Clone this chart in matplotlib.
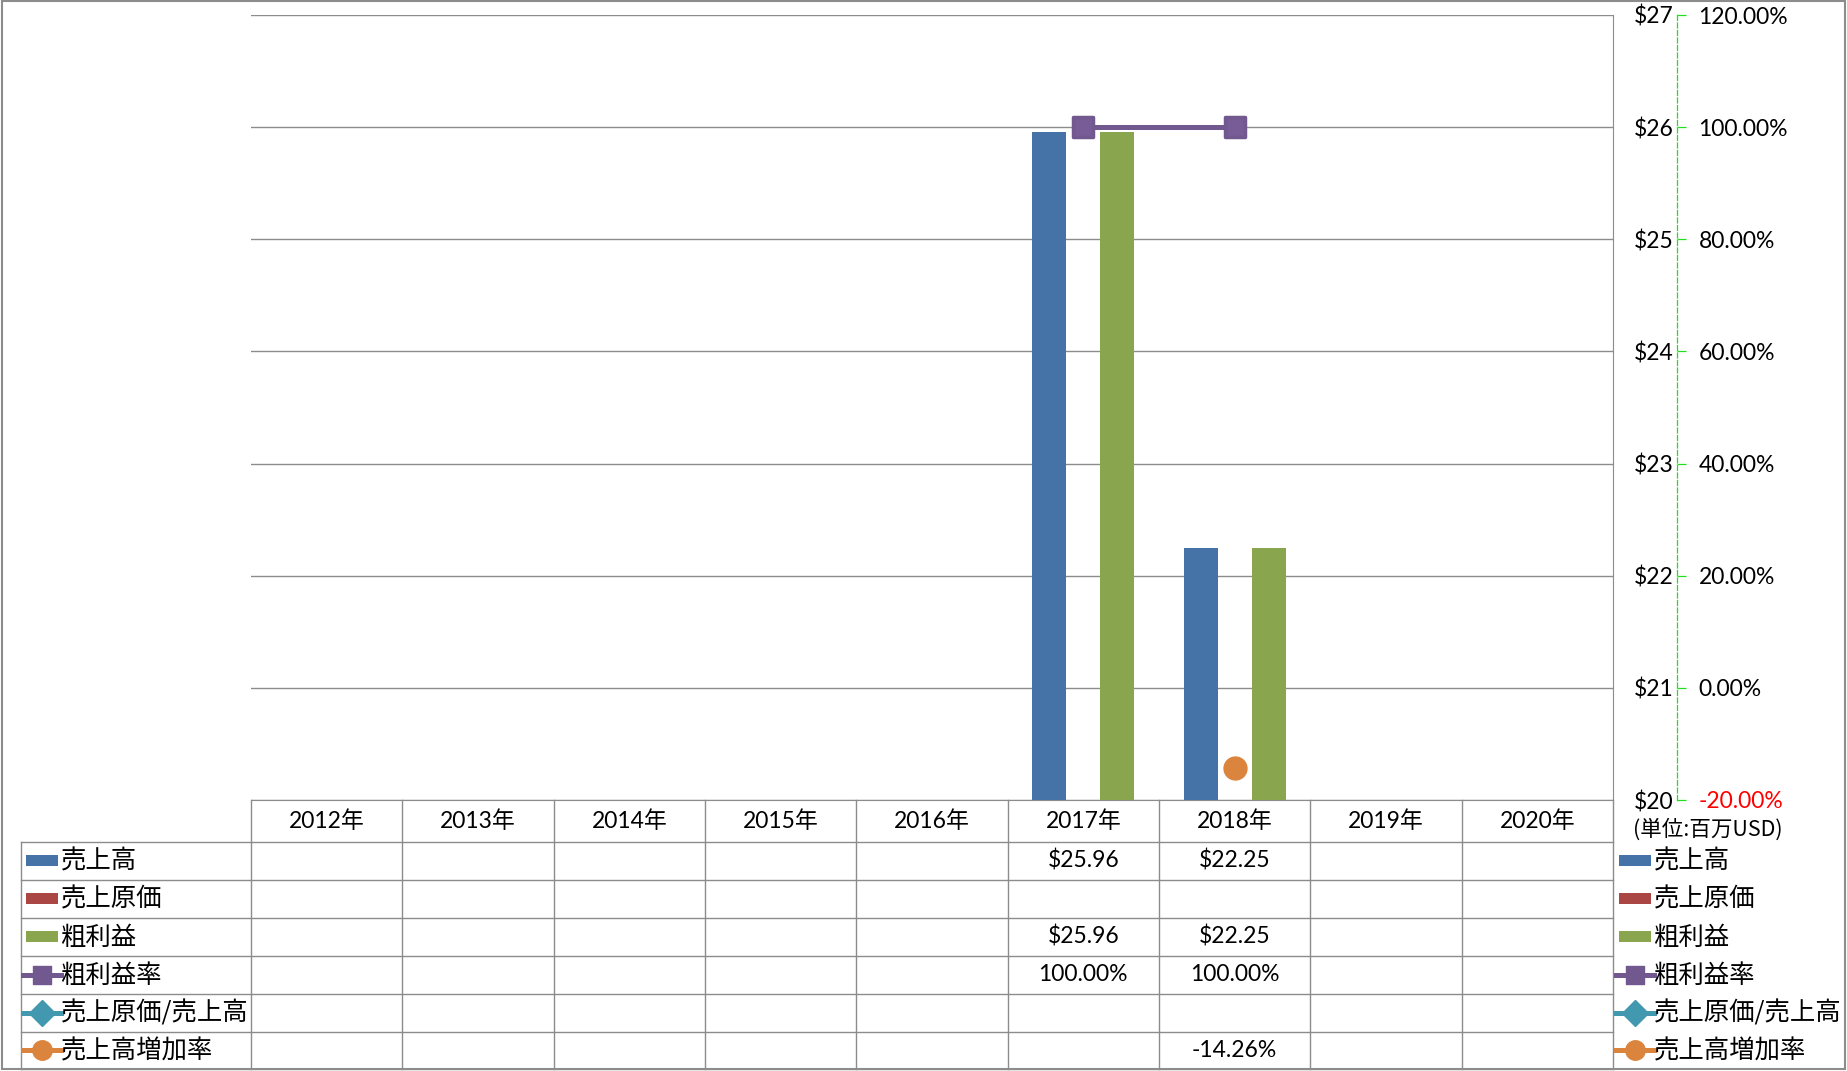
import numpy as np
import matplotlib
matplotlib.use("Agg")
import matplotlib.pyplot as plt
from matplotlib.lines import Line2D
from matplotlib.patches import Rectangle
from matplotlib.markers import MarkerStyle
import matplotlib.transforms as mtransforms

plt.rcParams['font.family'] = ['Lato', 'Noto Sans CJK JP']

# ---- data ----
years = ['2012年', '2013年', '2014年', '2015年', '2016年', '2017年', '2018年', '2019年', '2020年']
sales = [np.nan, np.nan, np.nan, np.nan, np.nan, 25.96, 22.25, np.nan, np.nan]
cogs = [np.nan] * 9
gross = [np.nan, np.nan, np.nan, np.nan, np.nan, 25.96, 22.25, np.nan, np.nan]
gross_margin = [np.nan, np.nan, np.nan, np.nan, np.nan, 100.0, 100.0, np.nan, np.nan]
cogs_ratio = [np.nan] * 9
sales_growth = [np.nan, np.nan, np.nan, np.nan, np.nan, np.nan, -14.26, np.nan, np.nan]

usd_ticks = [20, 21, 22, 23, 24, 25, 26, 27]
pct_ticks = [-20, 0, 20, 40, 60, 80, 100, 120]

BLUE = '#4572A7'
RED = '#AA4643'
GREEN = '#89A54E'
PURPLE = '#71588F'
TEAL = '#4198AF'
ORANGE = '#DB843D'
GRID = '#8C8C8C'
LAT = 16.5   # latin text size
CJK = 18.3   # row label size

W, H = 1847, 1071


def fx(px):
    return px / W


def fy(py):
    return 1 - py / H


fig = plt.figure(figsize=(W / 100, H / 100), dpi=100)
ax = fig.add_axes([fx(251), fy(800), (1613 - 251) / W, (800 - 15) / H])

x = np.arange(len(years))
bw = 0.2247
ax.bar(x - bw, sales, bw, color=BLUE, zorder=3)
ax.bar(x, cogs, bw, color=RED, zorder=3)
ax.bar(x + bw, gross, bw, color=GREEN, zorder=3)

ax.set_xlim(-0.5, len(years) - 0.5)
ax.set_ylim(20, 27)
ax.set_yticks(usd_ticks)
ax.set_yticklabels(['$%d' % v for v in usd_ticks])
ax.set_xticks([])
ax.grid(axis='y', color=GRID, linewidth=1.0)
ax.set_axisbelow(True)
ax.spines['left'].set_visible(False)
ax.spines['top'].set_visible(False)
ax.spines['right'].set_color(GRID)
ax.spines['bottom'].set_color(GRID)

# ---- secondary axis ----
ax2 = ax.twinx()
ax2.set_ylim(-20, 120)
ax2.set_yticks(pct_ticks)
ax2.set_yticklabels(['%.2f%%' % v for v in pct_ticks])
ax2.spines['right'].set_position(('outward', 46))
ax2.spines['right'].set_color('#22DD22')
ax2.spines['right'].set_linestyle((0, (4, 2)))
ax2.spines['right'].set_linewidth(0.9)
for s in ['left', 'top', 'bottom']:
    ax2.spines[s].set_visible(False)
ax2.tick_params(axis='y', direction='out', length=6.5, width=0.9, color='#22DD22',
                pad=9, labelsize=LAT)
for t in ax2.yaxis.get_major_ticks():
    t.tick2line.set_linestyle((0, (3, 2)))
ax2.get_yticklabels()[0].set_color('red')

# primary labels sit on the right, just inside the green axis (twinx resets them)
ax.tick_params(axis='y', left=False, labelleft=False, right=False, labelright=True,
               pad=40, labelsize=LAT)
for t in ax.yaxis.get_major_ticks():
    t.label2.set_horizontalalignment('right')

sq = MarkerStyle('s', joinstyle='round')
ax2.plot(x, gross_margin, color=PURPLE, linewidth=3.6, marker=sq, markersize=14,
         markerfacecolor='#775C97', markeredgecolor=PURPLE, markeredgewidth=2.5, zorder=4)
ax2.plot(x, cogs_ratio, color=TEAL, linewidth=3.6, marker='D', markersize=14, zorder=4)
ax2.plot(x, sales_growth, color=ORANGE, linewidth=3.6, marker='o', markersize=16.5,
         markeredgecolor=ORANGE, zorder=4)

# ---- data table ----
blend = mtransforms.blended_transform_factory(ax.transData, fig.transFigure)
row_lines = [842 + 37.9 * i for i in range(7)]
row_mid = [(row_lines[i] + row_lines[i + 1]) / 2 for i in range(6)]

for k in range(len(years) + 1):
    fig.add_artist(Line2D([k - 0.5, k - 0.5], [fy(800), fy(1069)], transform=blend,
                          color=GRID, linewidth=1.0, clip_on=False))
fig.add_artist(Line2D([fx(21), fx(21)], [fy(842), fy(1069)], color=GRID, linewidth=1.0))
for yl in row_lines:
    fig.add_artist(Line2D([fx(21), fx(1613)], [fy(yl), fy(yl)], color=GRID, linewidth=1.0))

for i, yr in enumerate(years):
    fig.text(i, fy(821), yr, transform=blend, ha='center', va='center', fontsize=LAT)

rows = [
    ('売上高', sales, '$%.2f', 'bar', BLUE),
    ('売上原価', cogs, '$%.2f', 'bar', RED),
    ('粗利益', gross, '$%.2f', 'bar', GREEN),
    ('粗利益率', gross_margin, '%.2f%%', 's', PURPLE),
    ('売上原価/売上高', cogs_ratio, '%.2f%%', 'D', TEAL),
    ('売上高増加率', sales_growth, '%.2f%%', 'o', ORANGE),
]

for r, (name, vals, fmt, kind, col) in enumerate(rows):
    yc = row_mid[r]
    for i, v in enumerate(vals):
        if not np.isnan(v):
            fig.text(i, fy(yc), fmt % v, transform=blend, ha='center', va='center',
                     fontsize=LAT)
    # left labels and right legend
    for x0, tx in [(26, 61), (1619, 1654)]:
        if kind == 'bar':
            fig.add_artist(Rectangle((fx(x0), fy(yc + 5.5)), 32 / W, 11 / H,
                                     facecolor=col, edgecolor='none'))
        else:
            mk = MarkerStyle('s', joinstyle='round') if kind == 's' else kind
            ms = 13 if kind != 'o' else 14
            fig.add_artist(Line2D([fx(x0 - 3), fx(x0 + 35)], [fy(yc), fy(yc)], color=col,
                                  linewidth=3.6, marker=None))
            fig.add_artist(Line2D([fx(x0 + 16)], [fy(yc)], color=col, marker=mk,
                                  markersize=ms, markeredgecolor=col, linestyle='none'))
        fig.text(fx(tx), fy(yc + 1), name, ha='left', va='center', fontsize=CJK,
                 family=['Noto Sans CJK JP'])

fig.text(fx(1633), fy(830), '(単位:百万USD)', ha='left', va='center', fontsize=15.5,
         family=['Noto Sans CJK JP'])

# outer border
fig.add_artist(Rectangle((fx(2), fy(1069)), (1845 - 2) / W, (1069 - 1) / H,
                         fill=False, edgecolor=GRID, linewidth=1.5))

fig.savefig('out.png', dpi=100)
